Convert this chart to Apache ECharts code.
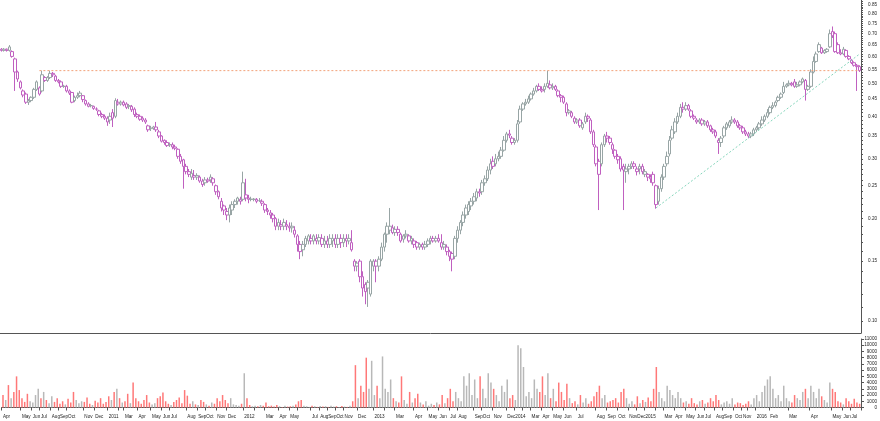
<!DOCTYPE html>
<html><head><meta charset="utf-8">
<script src="https://cdn.jsdelivr.net/npm/echarts@6/dist/echarts.min.js"></script>
<style>html,body{margin:0;padding:0;background:#fff}#c{width:880px;height:421px}</style>
</head><body><div id="c"></div>
<script>
// Month labels and number of weekly bars in each month
const monthLabels = ['Apr','May','Jun','Jul','Aug','Sep','Oct','Nov','Dec',
 '2011','Feb','Mar','Apr','May','Jun','Jul','Aug','Sep','Oct','Nov','Dec',
 '2012','Feb','Mar','Apr','May','Jun','Jul','Aug','Sep','Oct','Nov','Dec',
 '2013','Feb','Mar','Apr','May','Jun','Jul','Aug','Sep','Oct','Nov','Dec',
 '2014','Feb','Mar','Apr','May','Jun','Jul','Aug','Sep','Oct','Nov','Dec',
 '2015','Feb','Mar','Apr','May','Jun','Jul','Aug','Sep','Oct','Nov','Dec',
 '2016','Feb','Mar','Apr','May','Jun','Jul'];
const weeksPerMonth = [7,4,3,4,3,3,6,4,5,
 4,2,5,5,4,3,6,4,3,4,4,6,
 4,4,5,4,3,5,3,3,3,3,5,6,
 4,4,7,5,4,4,3,6,3,4,5,3,
 3,3,4,4,4,5,7,4,4,4,3,3,
 4,3,4,4,4,3,4,3,4,3,2,3,
 5,7,8,8,4,3,4];

// weekly candles: [open, close, low, high]
const ohlc = [
[.630,.625,.620,.635],[.625,.630,.620,.635],[.630,.625,.620,.633],[.625,.640,.620,.648],[.620,.600,.595,.625],
[.590,.540,.475,.595],[.540,.515,.505,.545],[.505,.485,.480,.510],[.475,.462,.455,.480],[.465,.440,.435,.470],
[.445,.440,.432,.450],[.445,.455,.440,.458],[.455,.480,.450,.485],[.480,.505,.475,.510],[.485,.465,.460,.490],
[.475,.530,.470,.545],[.520,.510,.505,.525],[.510,.520,.505,.525],[.520,.535,.515,.545],[.535,.530,.522,.540],
[.525,.510,.505,.530],[.510,.505,.500,.515],[.505,.490,.485,.510],[.490,.490,.485,.495],[.490,.475,.470,.495],
[.475,.468,.462,.480],[.470,.440,.437,.472],[.445,.455,.440,.460],[.455,.460,.450,.470],[.460,.468,.455,.475],
[.460,.448,.440,.462],[.445,.435,.430,.448],[.435,.428,.425,.440],[.430,.430,.425,.435],[.428,.422,.418,.430],
[.420,.420,.415,.425],[.415,.405,.400,.418],[.405,.400,.395,.410],[.400,.395,.390,.405],[.395,.385,.375,.400],
[.390,.400,.380,.410],[.410,.395,.372,.420],[.400,.445,.395,.452],[.440,.435,.430,.450],[.435,.440,.430,.445],
[.440,.432,.428,.445],[.435,.425,.420,.440],[.428,.430,.420,.435],[.428,.418,.412,.432],[.420,.405,.398,.425],
[.405,.400,.395,.410],[.400,.392,.388,.405],[.395,.390,.385,.400],[.390,.385,.380,.395],[.375,.365,.360,.378],
[.370,.368,.362,.375],[.368,.372,.365,.375],[.372,.365,.360,.385],[.360,.350,.345,.365],[.350,.338,.335,.352],
[.340,.335,.330,.342],[.335,.328,.325,.340],[.330,.330,.325,.335],[.330,.325,.320,.335],[.325,.322,.318,.330],
[.320,.305,.300,.322],[.305,.295,.290,.310],[.298,.285,.245,.300],[.285,.275,.270,.290],[.275,.270,.265,.280],
[.265,.272,.260,.280],[.268,.265,.260,.278],[.265,.268,.260,.272],[.265,.258,.255,.268],[.258,.252,.248,.262],
[.255,.260,.250,.265],[.260,.258,.255,.264],[.260,.265,.255,.270],[.262,.255,.250,.265],[.250,.240,.235,.252],
[.240,.232,.228,.242],[.225,.215,.210,.230],[.218,.212,.205,.220],[.210,.205,.198,.215],[.205,.215,.195,.220],
[.212,.220,.205,.225],[.220,.225,.215,.228],[.225,.230,.220,.232],[.228,.225,.220,.232],[.228,.255,.225,.275],
[.235,.230,.225,.262],[.230,.228,.222,.235],[.228,.228,.225,.232],[.228,.228,.225,.230],[.228,.225,.222,.230],
[.226,.226,.224,.230],[.225,.222,.218,.228],[.220,.212,.208,.222],[.212,.210,.205,.215],[.208,.205,.200,.212],
[.205,.200,.195,.208],[.200,.190,.185,.202],[.190,.195,.185,.200],[.192,.190,.185,.198],[.190,.195,.185,.200],
[.190,.192,.185,.198],[.190,.188,.183,.195],[.188,.190,.182,.195],[.185,.180,.176,.190],[.178,.168,.160,.180],
[.168,.160,.152,.172],[.162,.168,.155,.172],[.168,.175,.165,.178],[.172,.178,.168,.180],[.175,.172,.168,.180],
[.172,.178,.168,.180],[.175,.172,.168,.180],[.172,.176,.168,.180],[.175,.168,.165,.180],[.168,.172,.164,.178],
[.172,.168,.164,.178],[.168,.175,.164,.180],[.172,.175,.165,.180],[.175,.168,.164,.180],[.168,.175,.164,.180],
[.175,.170,.164,.180],[.170,.175,.165,.180],[.175,.172,.165,.180],[.172,.175,.168,.180],[.170,.162,.160,.185],
[.150,.145,.140,.152],[.148,.145,.140,.150],[.150,.135,.130,.152],[.135,.125,.118,.140],[.128,.122,.112,.130],
[.125,.130,.110,.132],[.120,.150,.118,.152],[.145,.150,.140,.152],[.150,.145,.130,.152],[.145,.152,.140,.155],
[.152,.165,.150,.170],[.165,.180,.160,.182],[.180,.190,.170,.195],[.185,.190,.180,.215],[.188,.182,.180,.192],
[.182,.186,.178,.190],[.186,.182,.178,.190],[.180,.172,.170,.182],[.174,.178,.170,.180],[.178,.180,.175,.185],
[.178,.172,.170,.180],[.172,.175,.168,.178],[.172,.168,.164,.175],[.170,.165,.162,.172],[.165,.168,.162,.170],
[.168,.165,.162,.170],[.165,.168,.162,.172],[.168,.172,.165,.175],[.172,.175,.168,.178],[.175,.172,.170,.178],
[.172,.175,.170,.178],[.175,.172,.170,.180],[.170,.165,.162,.180],[.165,.168,.162,.172],[.165,.160,.156,.168],
[.160,.155,.150,.162],[.158,.152,.140,.160],[.155,.175,.152,.178],[.175,.185,.170,.190],[.185,.195,.180,.198],
[.195,.205,.190,.210],[.205,.215,.200,.220],[.210,.220,.205,.225],[.218,.225,.212,.230],[.225,.232,.220,.238],
[.230,.240,.225,.245],[.240,.238,.232,.245],[.240,.255,.235,.260],[.255,.262,.250,.268],[.262,.278,.258,.285],
[.278,.290,.270,.300],[.295,.285,.280,.305],[.290,.300,.285,.310],[.300,.305,.295,.315],[.305,.318,.300,.325],
[.318,.340,.315,.350],[.340,.355,.335,.360],[.355,.352,.345,.365],[.345,.335,.330,.350],[.335,.340,.330,.345],
[.340,.380,.335,.390],[.385,.420,.380,.430],[.420,.435,.415,.440],[.435,.440,.430,.450],[.440,.450,.435,.460],
[.450,.465,.445,.470],[.465,.475,.460,.485],[.475,.490,.470,.495],[.490,.480,.475,.500],[.480,.475,.470,.490],
[.480,.490,.470,.500],[.490,.500,.485,.545],[.495,.485,.480,.510],[.485,.490,.478,.500],[.490,.480,.475,.495],
[.475,.460,.455,.480],[.460,.455,.440,.465],[.455,.440,.435,.460],[.435,.410,.400,.440],[.410,.415,.405,.420],
[.410,.400,.395,.415],[.395,.385,.380,.400],[.385,.390,.380,.395],[.390,.375,.370,.395],[.370,.380,.365,.385],
[.385,.400,.380,.410],[.400,.395,.385,.405],[.390,.360,.355,.395],[.360,.330,.325,.365],[.325,.290,.285,.330],
[.295,.270,.212,.300],[.290,.330,.285,.335],[.330,.350,.325,.355],[.350,.345,.335,.360],[.345,.335,.330,.350],
[.330,.320,.310,.335],[.318,.305,.300,.320],[.305,.298,.290,.310],[.300,.280,.275,.305],[.285,.278,.212,.290],
[.275,.280,.255,.290],[.280,.285,.270,.290],[.285,.290,.280,.295],[.290,.285,.280,.295],[.275,.280,.268,.285],
[.280,.285,.270,.290],[.285,.275,.270,.290],[.270,.275,.265,.280],[.270,.265,.258,.272],[.265,.262,.255,.270],
[.270,.255,.250,.275],[.250,.220,.214,.252],[.225,.245,.220,.250],[.245,.265,.240,.270],[.265,.285,.260,.290],
[.290,.305,.285,.315],[.310,.340,.305,.350],[.345,.365,.340,.375],[.360,.385,.355,.395],[.385,.400,.380,.410],
[.400,.425,.395,.435],[.425,.420,.410,.440],[.420,.430,.415,.440],[.430,.420,.415,.435],[.415,.400,.395,.420],
[.400,.395,.390,.405],[.390,.385,.380,.395],[.385,.390,.380,.395],[.390,.380,.375,.395],[.380,.385,.375,.390],
[.385,.375,.370,.390],[.375,.365,.360,.378],[.365,.360,.355,.370],[.360,.350,.345,.365],[.340,.335,.310,.345],
[.335,.345,.325,.350],[.350,.370,.345,.375],[.370,.380,.365,.385],[.375,.385,.370,.390],[.385,.390,.380,.400],
[.390,.385,.380,.395],[.385,.375,.370,.390],[.375,.370,.365,.380],[.370,.360,.355,.375],[.360,.355,.350,.365],
[.355,.350,.345,.360],[.350,.355,.345,.360],[.355,.365,.350,.370],[.365,.370,.360,.375],[.370,.380,.365,.385],
[.380,.390,.375,.400],[.390,.400,.385,.405],[.400,.410,.395,.420],[.410,.425,.405,.430],[.425,.430,.420,.440],
[.430,.440,.425,.445],[.445,.455,.440,.460],[.455,.465,.450,.470],[.470,.490,.465,.505],[.490,.495,.485,.500],
[.495,.500,.490,.510],[.500,.495,.490,.505],[.505,.490,.485,.515],[.490,.495,.485,.505],[.495,.505,.490,.510],
[.505,.515,.500,.520],[.510,.480,.445,.515],[.480,.490,.475,.495],[.490,.540,.485,.550],[.540,.580,.535,.600],
[.580,.610,.575,.620],[.620,.650,.615,.660],[.635,.615,.610,.640],[.615,.625,.610,.630],[.620,.630,.615,.635],
[.640,.700,.635,.720],[.710,.690,.680,.735],[.700,.620,.615,.710],[.650,.615,.610,.660],[.615,.610,.605,.630],
[.610,.630,.605,.640],[.625,.600,.595,.630],[.600,.590,.585,.605],[.585,.575,.570,.590],[.575,.565,.560,.580],
[.565,.560,.475,.570],[.560,.545,.540,.565]
];

const volume = [
2000,1200,3600,1500,2500,5000,2800,1500,900,2200,
1000,800,2000,3000,1500,2500,1200,700,1800,900,
1500,600,1000,500,1400,800,2500,1200,700,1000,
900,1600,600,400,1100,800,1500,600,900,1800,
1200,2500,3000,1500,800,1000,2200,700,4000,1500,
1000,600,1200,2000,800,500,700,1500,1800,2400,
1000,600,400,900,1200,1600,700,2800,1900,600,
1000,500,400,1200,900,500,300,800,600,1500,
1000,2000,1200,700,1500,500,400,300,600,5500,
1500,400,200,300,200,400,300,800,200,300,
150,400,200,100,300,150,200,300,500,1000,
1200,300,200,100,300,200,100,250,150,200,
100,300,150,200,100,250,150,100,300,1000,
6800,1500,3500,2500,8000,3000,7500,2000,3500,1500,
8200,3000,2500,4500,1500,1000,800,5000,1200,600,
2500,800,1500,2200,800,500,1000,300,600,400,
800,500,2000,700,1500,3000,1000,2500,1500,1000,
5000,3500,5500,2000,4500,1500,5000,3000,1500,5500,
4000,3000,2000,1000,3500,2500,4500,1500,2000,1200,
10000,9500,6500,1800,2500,1500,4500,3000,2500,5000,
2000,5500,1500,3000,1000,4000,2500,1200,3800,1500,
700,1000,500,2000,800,1500,600,1000,1800,2500,
3500,1500,2000,800,1000,1200,1500,800,2500,3000,
1500,600,1000,500,1800,700,1200,900,1600,1000,
3000,6500,2500,1500,1000,3500,2800,2000,1500,2500,
1500,800,1000,600,1500,700,500,1000,1200,600,
800,1500,1000,2000,1200,500,800,1000,600,1500,
500,800,700,400,600,1000,500,1500,2000,1000,
2500,3500,4500,5000,3000,1500,2000,1000,3500,1500,
1000,800,2000,1500,1200,2500,3000,1500,3500,2500,
1500,3000,1800,1200,800,4000,3000,2500,1000,800,
500,1500,1000,600,1400,800,600
];

const priceTicks = [0.10,0.15,0.20,0.25,0.30,0.35,0.40,0.45,0.50,0.55,0.60,0.65,0.70,0.75,0.80,0.85];
const volumeTicks = [0,1000,2000,3000,4000,5000,6000,7000,8000,9000,10000,11000];
// reference lines: [barIndex, price]
const resistanceLine = [[14, 0.545], [316, 0.545]];
const trendLine = [[241, 0.215], [316, 0.61]];

const font = 'Liberation Sans, Arial, sans-serif';
const FS = 4.6;
const LABEL_COLOR = '#222';
const GRID_RIGHT = 17, PLOT_W = 880 - GRID_RIGHT;

// build categories
const cats = [], catLabel = [];
monthLabels.forEach((m, mi) => {
  for (let k = 0; k < weeksPerMonth[mi]; k++) {
    cats.push('w' + cats.length);
    catLabel.push(k === 0 ? m : '');
  }
});
// skip a month label when it would run into the previous one
const mctx = document.createElement('canvas').getContext('2d');
mctx.font = FS + 'px ' + font;
const band = PLOT_W / cats.length;
const showLabel = [];
let lastEnd = -99, lastWasYear = false;
catLabel.forEach((l, i) => {
  let ok = false;
  const x = i * band;
  if (l && x >= lastEnd + (lastWasYear ? 2 : -0.3)) {
    ok = true; lastEnd = x + mctx.measureText(l).width; lastWasYear = /^\d/.test(l);
  }
  showLabel.push(ok);
});

const GRAY_B = '#98a5a5', GRAY_F = '#c9d2d2', PUR_F = '#8b008b', PUR_B = '#c060c0';
const candleData = ohlc.map((d, i) => {
  const prevClose = i > 0 ? ohlc[i - 1][1] : d[0];
  const down = d[1] < prevClose;
  return {
    value: d,
    itemStyle: down
      ? { color: '#ffffff', borderColor: PUR_B, color0: PUR_F, borderColor0: PUR_F }
      : { color: '#ffffff', borderColor: GRAY_B, color0: GRAY_F, borderColor0: GRAY_B }
  };
});
const volData = volume.map((v, i) => {
  const prevClose = i > 0 ? ohlc[i - 1][1] : ohlc[i][0];
  const down = ohlc[i][1] < prevClose;
  return { value: v, itemStyle: { color: down ? '#ff7878' : '#b8b8b8' } };
});

const minorTicks = [];
for (let v = 10; v <= 88; v++) minorTicks.push(v / 100);

const chart = echarts.init(document.getElementById('c'), null, { renderer: 'canvas' });
chart.setOption({
  animation: false,
  backgroundColor: '#ffffff',
  grid: [
    { left: 0, right: GRID_RIGHT, top: 0, bottom: 88 },
    { left: 0, right: GRID_RIGHT, top: 339, bottom: 13.5 }
  ],
  xAxis: [
    { type: 'category', gridIndex: 0, data: cats, boundaryGap: true,
      axisLine: { show: true, lineStyle: { color: '#555', width: 1 } },
      axisTick: { show: false }, axisLabel: { show: false }, splitLine: { show: false } },
    { type: 'category', gridIndex: 1, data: cats, boundaryGap: true,
      axisLine: { show: true, lineStyle: { color: '#555', width: 1 } },
      axisTick: { show: true, interval: (i) => catLabel[i] !== '', length: 3, lineStyle: { color: '#555' } },
      axisLabel: { show: true, interval: (i) => showLabel[i], formatter: (v, i) => catLabel[i],
        fontSize: FS, color: LABEL_COLOR, fontFamily: font, align: 'left', margin: 7, hideOverlap: false },
      splitLine: { show: false } }
  ],
  yAxis: [
    { type: 'log', logBase: 10, gridIndex: 0, position: 'right', min: 0.0922, max: 0.8793,
      axisLine: { show: true, lineStyle: { color: '#555' } },
      axisTick: { show: true, customValues: minorTicks, length: 2, lineStyle: { color: '#555' } },
      axisLabel: { show: true, customValues: priceTicks, fontSize: FS, color: LABEL_COLOR, fontFamily: font,
        margin: 16, align: 'right', formatter: (v) => Number(v).toFixed(2) },
      splitLine: { show: false } },
    { type: 'value', gridIndex: 1, position: 'right', min: 0, max: 11000, interval: 1000,
      axisLine: { show: true, lineStyle: { color: '#555' } },
      axisTick: { show: true, length: 3, lineStyle: { color: '#555' } },
      axisLabel: { show: true, customValues: volumeTicks, fontSize: FS, color: LABEL_COLOR, fontFamily: font,
        margin: 16, align: 'right', formatter: (v) => String(v) },
      splitLine: { show: false } }
  ],
  series: [
    { type: 'candlestick', xAxisIndex: 0, yAxisIndex: 0, data: candleData, barWidth: 3,
      itemStyle: { borderWidth: 1 } },
    { type: 'line', xAxisIndex: 0, yAxisIndex: 0, data: resistanceLine, symbol: 'none', silent: true,
      lineStyle: { color: '#f2a27a', type: [2, 2], width: 1 } },
    { type: 'line', xAxisIndex: 0, yAxisIndex: 0, data: trendLine, symbol: 'none', silent: true,
      lineStyle: { color: '#86d6bc', type: [2, 2], width: 1 } },
    { type: 'bar', xAxisIndex: 1, yAxisIndex: 1, data: volData, barWidth: 1.5 }
  ]
});
</script></body></html>
